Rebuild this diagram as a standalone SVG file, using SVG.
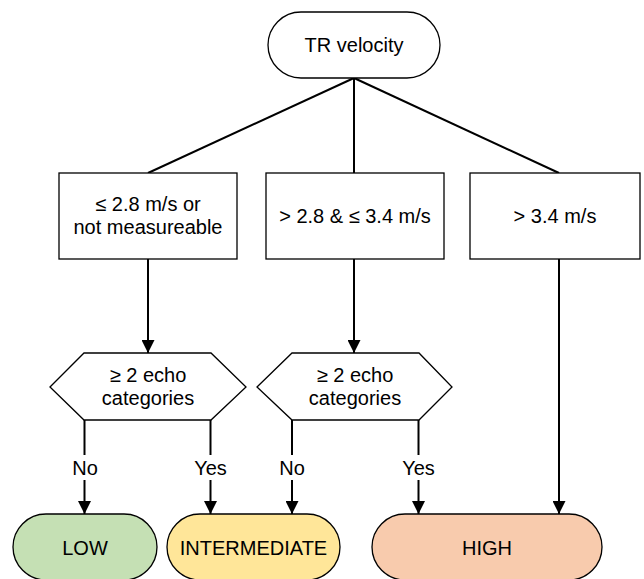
<svg xmlns="http://www.w3.org/2000/svg" width="644" height="579" viewBox="0 0 644 579">
<defs>
<marker id="arr" markerWidth="13" markerHeight="13" viewBox="0 0 13 13" refX="13" refY="6.5" orient="auto" markerUnits="userSpaceOnUse">
<path d="M0,0 L13,6.5 L0,13 Z" fill="#000"/>
</marker>
<style>
.n{fill:#fff;stroke:#000;stroke-width:1.3}
.t{font-family:"Liberation Sans",Arial,sans-serif;font-size:20px;fill:#000;text-anchor:middle}
.c{stroke:#000;stroke-width:2;fill:none}
.lb{fill:#fff}
</style>
</defs>
<rect width="644" height="579" fill="#fff"/>
<g id="connectors">
<line class="c" x1="354" y1="78" x2="148" y2="173"/>
<line class="c" x1="354" y1="78" x2="354" y2="173"/>
<line class="c" x1="354" y1="78" x2="559" y2="173"/>
<line class="c" x1="148" y1="259" x2="148" y2="353" marker-end="url(#arr)"/>
<line class="c" x1="354" y1="259" x2="354" y2="353" marker-end="url(#arr)"/>
<line class="c" x1="559" y1="259" x2="559" y2="514" marker-end="url(#arr)"/>
<line class="c" x1="84.5" y1="420" x2="84.5" y2="514" marker-end="url(#arr)"/>
<line class="c" x1="210.5" y1="420" x2="210.5" y2="514" marker-end="url(#arr)"/>
<line class="c" x1="292" y1="420" x2="292" y2="514" marker-end="url(#arr)"/>
<line class="c" x1="418.5" y1="420" x2="418.5" y2="514" marker-end="url(#arr)"/>
<rect class="lb" x="68" y="455" width="34" height="25"/>
<rect class="lb" x="190" y="455" width="41" height="25"/>
<rect class="lb" x="275" y="455" width="34" height="25"/>
<rect class="lb" x="398" y="455" width="41" height="25"/>
<text class="t" x="85" y="475">No</text>
<text class="t" x="210.5" y="475">Yes</text>
<text class="t" x="292" y="475">No</text>
<text class="t" x="418.5" y="475">Yes</text>
</g>
<g id="tr-velocity">
<rect class="n" x="268" y="12" width="172" height="66" rx="33"/>
<text class="t" x="354" y="52">TR velocity</text>
</g>
<g id="box-low">
<rect class="n" x="59" y="173" width="178" height="86"/>
<text class="t" x="148" y="211">≤ 2.8 m/s or</text>
<text class="t" x="148" y="234">not measureable</text>
</g>
<g id="box-mid">
<rect class="n" x="266" y="173" width="178" height="86"/>
<text class="t" x="355" y="223">&gt; 2.8 &amp; ≤ 3.4 m/s</text>
</g>
<g id="box-high">
<rect class="n" x="470" y="173" width="170" height="86"/>
<text class="t" x="555" y="223">&gt; 3.4 m/s</text>
</g>
<g id="hex1">
<polygon class="n" points="50,387 84,353 211,353 246,387 211,420 84,420"/>
<text class="t" x="148" y="382">≥ 2 echo</text>
<text class="t" x="148" y="405">categories</text>
</g>
<g id="hex2">
<polygon class="n" points="257,387 292,353 419,353 452,387 419,420 292,420"/>
<text class="t" x="355" y="382">≥ 2 echo</text>
<text class="t" x="355" y="405">categories</text>
</g>
<g id="low">
<rect class="n" x="13" y="514" width="144" height="66" rx="33" style="fill:#C5E0B4"/>
<text class="t" x="85" y="555">LOW</text>
</g>
<g id="intermediate">
<rect class="n" x="167" y="514" width="173" height="66" rx="33" style="fill:#FFE699"/>
<text class="t" x="253.5" y="555">INTERMEDIATE</text>
</g>
<g id="high">
<rect class="n" x="372" y="514" width="230" height="66" rx="33" style="fill:#F8CBAD"/>
<text class="t" x="487" y="555">HIGH</text>
</g>
</svg>
